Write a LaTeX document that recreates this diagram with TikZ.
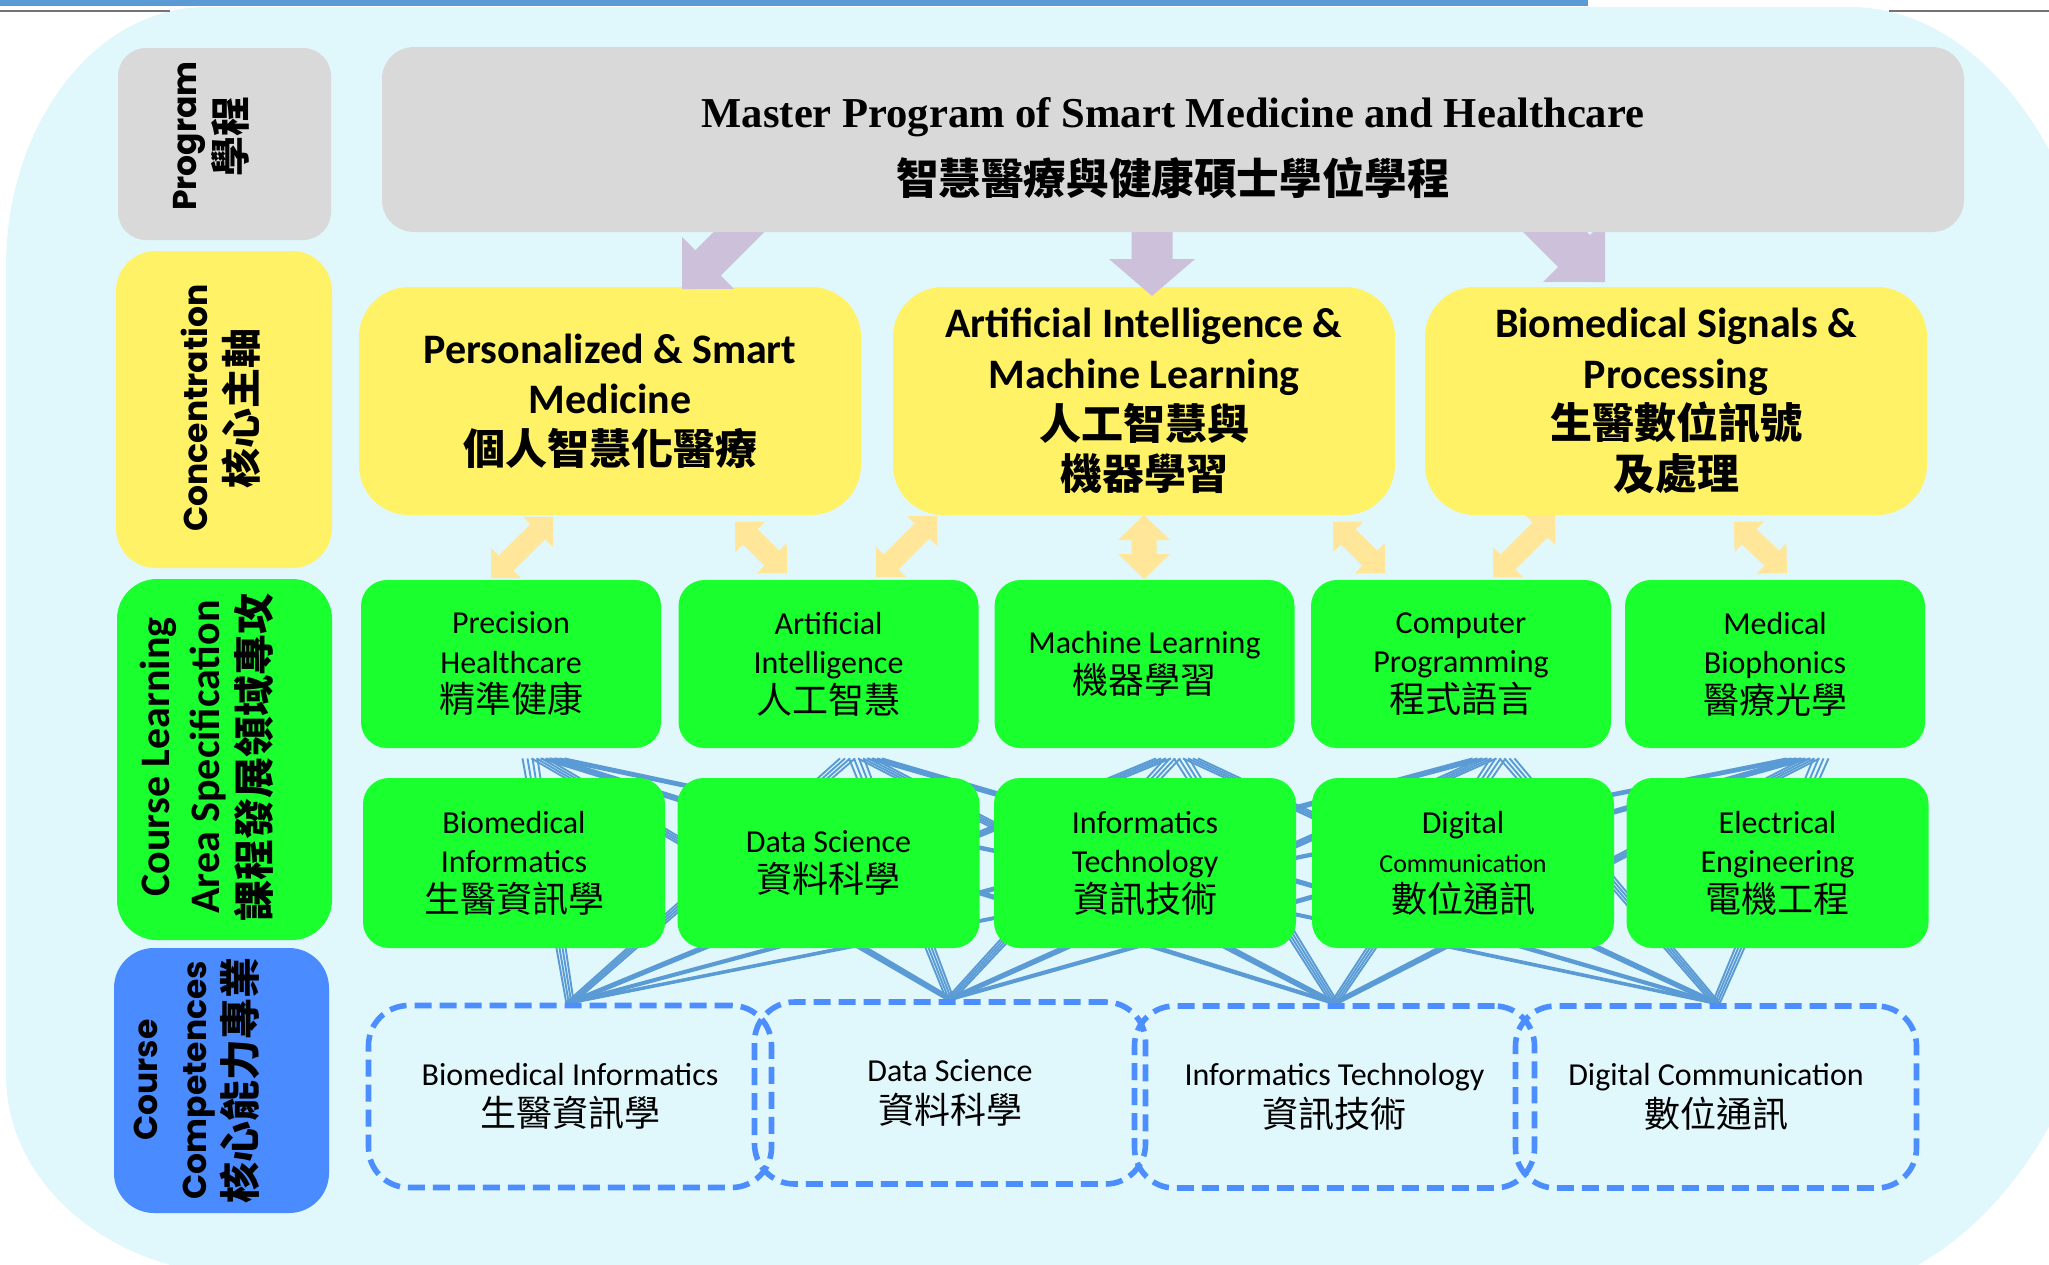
\documentclass[tikz,border=0pt]{standalone}
\usepackage{fontspec}
\setmainfont{Carlito}
\newfontfamily\cjk{Noto Sans CJK TC}
\newfontfamily\gothic{Poppins}
\newfontfamily\serifT{Liberation Serif}
\usetikzlibrary{calc}
\pgfdeclarelayer{bg}
\pgfdeclarelayer{lines}
\pgfdeclarelayer{top}
\pgfsetlayers{bg,lines,main,top}
\definecolor{bgcyan}{HTML}{E0F7FC}
\definecolor{boxgray}{HTML}{D9D9D9}
\definecolor{boxyellow}{HTML}{FFF266}
\definecolor{boxgreen}{HTML}{1AFF2E}
\definecolor{boxblue}{HTML}{4A8BFF}
\definecolor{dashblue}{HTML}{4D8EFF}
\definecolor{lineblue}{HTML}{5B9BD5}
\definecolor{arrpurple}{HTML}{CCC0DA}
\definecolor{arrorange}{HTML}{FFE699}
\definecolor{topbar}{HTML}{5B9BD5}
\newcommand\blockarrow[6]{%
 \fill[#1] let \p1=(#2), \p2=(#3), \n1={atan2(\y2-\y1,\x2-\x1)}, \n2={veclen(\x2-\x1,\y2-\y1)} in
  ($(\p1)+(\n1+90:#4pt)$) --
  ($(\p1)+(\n1:{\n2-#6pt})+(\n1+90:#4pt)$) --
  ($(\p1)+(\n1:{\n2-#6pt})+(\n1+90:#5pt)$) --
  (\p2) --
  ($(\p1)+(\n1:{\n2-#6pt})+(\n1-90:#5pt)$) --
  ($(\p1)+(\n1:{\n2-#6pt})+(\n1-90:#4pt)$) --
  ($(\p1)+(\n1-90:#4pt)$) -- cycle;}
\newcommand\dblarrow[6]{%
 \fill[#1] let \p1=(#2), \p2=(#3), \n1={atan2(\y2-\y1,\x2-\x1)}, \n2={veclen(\x2-\x1,\y2-\y1)} in
  (\p1) --
  ($(\p1)+(\n1:#6pt)+(\n1+90:#5pt)$) --
  ($(\p1)+(\n1:#6pt)+(\n1+90:#4pt)$) --
  ($(\p1)+(\n1:{\n2-#6pt})+(\n1+90:#4pt)$) --
  ($(\p1)+(\n1:{\n2-#6pt})+(\n1+90:#5pt)$) --
  (\p2) --
  ($(\p1)+(\n1:{\n2-#6pt})+(\n1-90:#5pt)$) --
  ($(\p1)+(\n1:{\n2-#6pt})+(\n1-90:#4pt)$) --
  ($(\p1)+(\n1:#6pt)+(\n1-90:#4pt)$) --
  ($(\p1)+(\n1:#6pt)+(\n1-90:#5pt)$) -- cycle;}
\newcommand\gc[1]{{\fontsize{18}{19.5}\selectfont\cjk #1}}
\newcommand\yc[1]{{\cjk\bfseries #1}}
\tikzset{
 box/.style={rectangle, inner sep=0pt, align=center},
 lblbox/.style={box, rounded corners=#1},
 progbox/.style={box, fill=boxgray, rounded corners=16pt, minimum width=791pt, minimum height=92.5pt},
 progtext/.style={box, font=\fontsize{21.3}{33.5}\selectfont},
 concbox/.style={box, fill=boxyellow, rounded corners=25pt, minimum width=251pt, minimum height=114pt,
   font=\fontsize{21}{25.3}\selectfont\bfseries},
 areabox/.style={box, fill=boxgreen, rounded corners=13pt, minimum width=150pt, minimum height=84pt,
   font=\fontsize{16}{19.7}\selectfont},
 compbox/.style={box, draw=dashblue, line width=2.8pt, dash pattern=on 8.5pt off 4pt,
   rounded corners=20pt, minimum height=91pt, font=\fontsize{16}{20.7}\selectfont},
 lbltext/.style={box, rotate=90, font=\fontsize{16.5}{24.5}\selectfont},
 bline/.style={draw=lineblue, line width=0.95pt},
 purplearrow/.style={fill=arrpurple},
 orangearrow/.style={fill=arrorange},
}
\begin{document}
\begin{tikzpicture}[x=0.5pt, y=-0.5pt]
\useasboundingbox (0,0) rectangle (2049,1264);
\begin{pgfonlayer}{bg}
\fill[bgcyan] (6,1075) -- (6,267) .. controls (6,123.5) and (95.6,7) .. (206,7)
  -- (1850,7) .. controls (1993.5,7) and (2110,186.2) .. (2110,407)
  -- (2110,880) .. controls (2110,1111.8) and (1966.6,1300) .. (1790,1300)
  -- (246,1275) .. controls (113.5,1275) and (6,1185.4) .. (6,1075) -- cycle;
\fill[topbar] (0,0) rectangle (1588,5.5);
\draw[gray!90!black, line width=0.9pt] (0,11) -- (170,11);
\draw[gray!90!black, line width=0.9pt] (1889,11) -- (2049,11);
\end{pgfonlayer}

% row labels
\node[lblbox=14pt, fill=boxgray, minimum width=106.5pt, minimum height=96pt] (lab-prog) at (224.5,144) {};
\node[lblbox=20pt, fill=boxyellow, minimum width=108pt, minimum height=158.5pt] (lab-conc) at (224,409.5) {};
\node[lblbox=20pt, fill=boxgreen, minimum width=107.5pt, minimum height=180.5pt] (lab-area) at (224.5,759.5) {};
\node[lblbox=20pt, fill=boxblue, minimum width=107.5pt, minimum height=132.5pt] (lab-comp) at (221.5,1080.5) {};
\node[lbltext] (t-prog) at (211,136) {{\gothic\bfseries Program}\\{\fontsize{20}{24.5}\selectfont\cjk\bfseries 學程}};
\node[lbltext] (t-conc) at (221,408) {{\gothic\bfseries Concentration}\\{\fontsize{20}{24.5}\selectfont\cjk\bfseries 核心主軸}};
\node[lbltext, font=\fontsize{21}{25}\selectfont\bfseries] (t-area) at (207,757) {Course Learning\\Area Specification\\{\fontsize{20.5}{25}\selectfont\cjk\bfseries 課程發展領域專攻}};
\node[lbltext] (t-comp) at (197,1080) {{\gothic\bfseries Course}\\{\gothic\bfseries Competences}\\{\fontsize{20.5}{24.5}\selectfont\cjk\bfseries 核心能力專業}};

% program
\begin{pgfonlayer}{top}
\node[progbox] (prog) at (1173,139.5) {};
\node[progtext] (prog-t) at (1173,148) {{\serifT\bfseries Master Program of Smart Medicine and Healthcare}\\{\cjk\bfseries 智慧醫療與健康碩士學位學程}};
\end{pgfonlayer}

% concentrations
\node[concbox] (conc-1) at (610,401) {Personalized \& Smart\\Medicine\\\yc{個人智慧化醫療}};
\node[concbox] (conc-2) at (1144,401) {Artificial Intelligence \&\\Machine Learning\\\yc{人工智慧與}\\\yc{機器學習}};
\node[concbox] (conc-3) at (1676,401) {Biomedical Signals \&\\Processing\\\yc{生醫數位訊號}\\\yc{及處理}};

% course learning areas, row 1
\node[areabox] (r1-1) at (511,664) {Precision\\Healthcare\\\gc{精準健康}};
\node[areabox] (r1-2) at (828.5,664) {Artificial\\Intelligence\\\gc{人工智慧}};
\node[areabox] (r1-3) at (1144.5,664) {Machine Learning\\\gc{機器學習}};
\node[areabox] (r1-4) at (1461,664) {Computer\\Programming\\\gc{程式語言}};
\node[areabox] (r1-5) at (1775,664) {Medical\\Biophonics\\\gc{醫療光學}};
% row 2
\node[areabox, minimum width=151pt, minimum height=85pt] (r2-1) at (514,863) {Biomedical\\Informatics\\\gc{生醫資訊學}};
\node[areabox, minimum width=151pt, minimum height=85pt] (r2-2) at (828.5,863) {Data Science\\\gc{資料科學}};
\node[areabox, minimum width=151pt, minimum height=85pt] (r2-3) at (1145,863) {Informatics\\Technology\\\gc{資訊技術}};
\node[areabox, minimum width=151pt, minimum height=85pt] (r2-4) at (1463,863) {Digital\\{\fontsize{13}{19.5}\selectfont Communication}\\\gc{數位通訊}};
\node[areabox, minimum width=151pt, minimum height=85pt] (r2-5) at (1777.5,863) {Electrical\\Engineering\\\gc{電機工程}};

% competences
\node[compbox, minimum width=201.5pt] (comp-1) at (570,1096.5) {Biomedical Informatics\\\gc{生醫資訊學}};
\node[compbox, minimum width=195.5pt] (comp-2) at (950,1093) {Data Science\\\gc{資料科學}};
\node[compbox, minimum width=200pt] (comp-3) at (1334.5,1097) {Informatics Technology\\\gc{資訊技術}};
\node[compbox, minimum width=200.5pt] (comp-4) at (1716,1097) {Digital Communication\\\gc{數位通訊}};

% connector web
\begin{pgfonlayer}{lines}
\foreach \i in {1,...,5} {
  \foreach \j in {1,...,4} {
    \foreach \k in {-1.5,-0.5,0.5,1.5} {
      \draw[bline] ($(r1-\i.south)+({10+9*\j+5*\k},10)$) -- ($(comp-\j.north)+({2.5*\k},0)$);
    }
  }
}
\end{pgfonlayer}

% purple arrows program -> concentrations
\coordinate (pa1s) at (782,189); \coordinate (pa1e) at (682,289);
\coordinate (pa2s) at (1152,200); \coordinate (pa2e) at (1152,296);
\coordinate (pa3s) at (1505,182); \coordinate (pa3e) at (1605,282);
\blockarrow{purplearrow}{pa1s}{pa1e}{9}{18.4}{18.4}
\blockarrow{purplearrow}{pa2s}{pa2e}{10.25}{21.5}{18.5}
\blockarrow{purplearrow}{pa3s}{pa3e}{11.3}{21.9}{21.9}

% orange double arrows concentrations <-> areas
\coordinate (oa1s) at (553,517);  \coordinate (oa1e) at (491,578);
\coordinate (oa2s) at (735,522);  \coordinate (oa2e) at (787,573);
\coordinate (oa3s) at (937,516);  \coordinate (oa3e) at (876,577);
\coordinate (oa4s) at (1144,515); \coordinate (oa4e) at (1144,579);
\coordinate (oa5s) at (1333,522); \coordinate (oa5e) at (1385,573);
\coordinate (oa6s) at (1555,515); \coordinate (oa6e) at (1493,577);
\coordinate (oa7s) at (1734,522); \coordinate (oa7e) at (1787,573);
\foreach \a in {1,2,3,5,6,7} {
  \dblarrow{orangearrow}{oa\a s}{oa\a e}{5.25}{10.6}{10.6}
}
\dblarrow{orangearrow}{oa4s}{oa4e}{6.25}{13}{12.5}
\end{tikzpicture}
\end{document}
